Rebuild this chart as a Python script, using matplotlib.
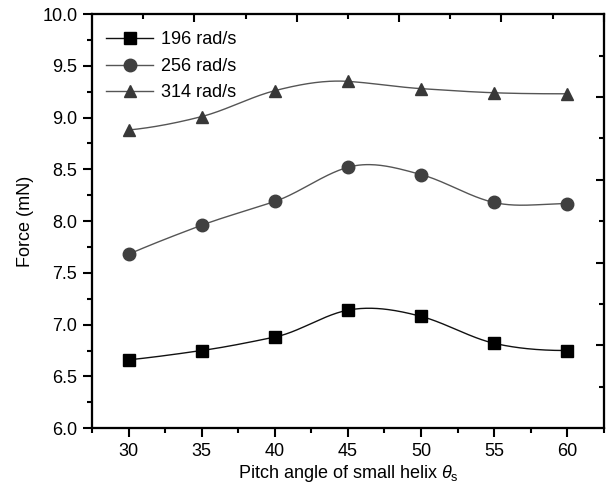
import numpy as np
import matplotlib
matplotlib.use('Agg')
import matplotlib.pyplot as plt

plt.rcParams['font.family'] = ['Liberation Sans', 'DejaVu Sans']
plt.rcParams['mathtext.fontset'] = 'custom'
plt.rcParams['mathtext.it'] = 'Liberation Sans:italic'
plt.rcParams['mathtext.rm'] = 'Liberation Sans'

# pitch angle (deg) and force (mN)
angle = [30, 35, 40, 45, 50, 55, 60]
force_196 = [6.66, 6.75, 6.88, 7.14, 7.08, 6.82, 6.75]
force_256 = [7.68, 7.96, 8.19, 8.52, 8.45, 8.18, 8.17]
force_314 = [8.88, 9.01, 9.26, 9.35, 9.28, 9.24, 9.23]
labels = ['196 rad/s', '256 rad/s', '314 rad/s']


def akima(x, y, n=40):
    # smooth connecting curve like the origin spline line
    x = np.asarray(x, float)
    y = np.asarray(y, float)
    m = np.diff(y) / np.diff(x)
    m = np.concatenate([[3*m[0] - 2*m[1], 2*m[0] - m[1]], m,
                        [2*m[-1] - m[-2], 3*m[-1] - 2*m[-2]]])
    w1 = np.abs(m[3:] - m[2:-1])
    w2 = np.abs(m[1:-2] - m[:-3])
    t = np.where(w1 + w2 > 1e-12,
                 (w1*m[1:-2] + w2*m[2:-1]) / np.where(w1 + w2 > 1e-12, w1 + w2, 1),
                 0.5*(m[1:-2] + m[2:-1]))
    t[-1] = 0.0  # curve runs flat into the last point
    xs, ys = [], []
    for i in range(len(x) - 1):
        h = x[i+1] - x[i]
        s = np.linspace(0, 1, n, endpoint=False)
        h00 = 2*s**3 - 3*s**2 + 1
        h10 = s**3 - 2*s**2 + s
        h01 = -2*s**3 + 3*s**2
        h11 = s**3 - s**2
        xs.append(x[i] + s*h)
        ys.append(h00*y[i] + h10*h*t[i] + h01*y[i+1] + h11*h*t[i+1])
    xs.append([x[-1]])
    ys.append([y[-1]])
    return np.concatenate(xs), np.concatenate(ys)


fig = plt.figure(figsize=(6.13, 4.86), dpi=100)
ax = fig.add_axes([0.150, 0.119, 0.835, 0.852])

series = [force_196, force_256, force_314]
markers = ['s', 'o', '^']
msizes = [8.5, 9, 8.5]
mcolors = ['#000000', '#404040', '#383838']
lcolors = ['#111111', '#555555', '#555555']
for vals, mk, ms, mc, lc, lab in zip(series, markers, msizes, mcolors, lcolors, labels):
    xs, ys = akima(angle, vals)
    ax.plot(xs, ys, color=lc, lw=1.0, zorder=2)
    ax.plot(angle, vals, linestyle='none', marker=mk, color=mc, ms=ms, zorder=3)
    ax.plot([], [], color=lc, lw=1.0, marker=mk, mfc=mc, mec=mc, ms=ms, label=lab)

ax.set_xlim(27.5, 62.5)
ax.set_ylim(6.0, 10.0)
ax.set_xticks(angle)
ax.set_xticks(np.arange(27.5, 62.6, 5), minor=True)
ax.set_yticks(np.arange(6.0, 10.01, 0.5))
ax.set_yticks(np.arange(6.25, 10, 0.5), minor=True)
ax.set_yticklabels(['%.1f' % v for v in np.arange(6.0, 10.01, 0.5)])

for sp in ax.spines.values():
    sp.set_linewidth(1.5)
ax.tick_params(which='both', direction='out', labelsize=13, width=1.5, top=False, right=False)
ax.tick_params(which='major', length=6.5, pad=4)
ax.tick_params(which='minor', length=3.5)

# top and right axes have their own tick spacing in the original
axt = ax.twiny()
axt.set_xlim(ax.get_xlim())
axt.set_xticks(np.arange(34.5, 62.6, 7))
axt.set_xticks(np.arange(31.0, 62.6, 7), minor=True)
axt.tick_params(which='both', direction='in', labeltop=False, width=1.5)
axt.tick_params(which='major', length=6)
axt.tick_params(which='minor', length=3.5)
axr = ax.twinx()
axr.set_ylim(ax.get_ylim())
axr.set_yticks(np.arange(6.8, 10.0, 0.8))
axr.set_yticks(np.arange(6.4, 10.0, 0.8), minor=True)
axr.tick_params(which='both', direction='in', labelright=False, width=1.5)
axr.tick_params(which='major', length=6)
axr.tick_params(which='minor', length=3.5)
for a in (axt, axr):
    for sp in a.spines.values():
        sp.set_linewidth(1.5)

ax.set_xlabel(r'Pitch angle of small helix $\theta_{\rm s}$', fontsize=13, labelpad=2)
ax.set_ylabel('Force (mN)', fontsize=13, labelpad=6)

leg = ax.legend(loc='upper left', frameon=False, fontsize=13, handlelength=2.6,
                handletextpad=0.45, labelspacing=0.52, borderaxespad=0.4,
                bbox_to_anchor=(0.0, 0.993))

fig.savefig('out.png', dpi=100)
